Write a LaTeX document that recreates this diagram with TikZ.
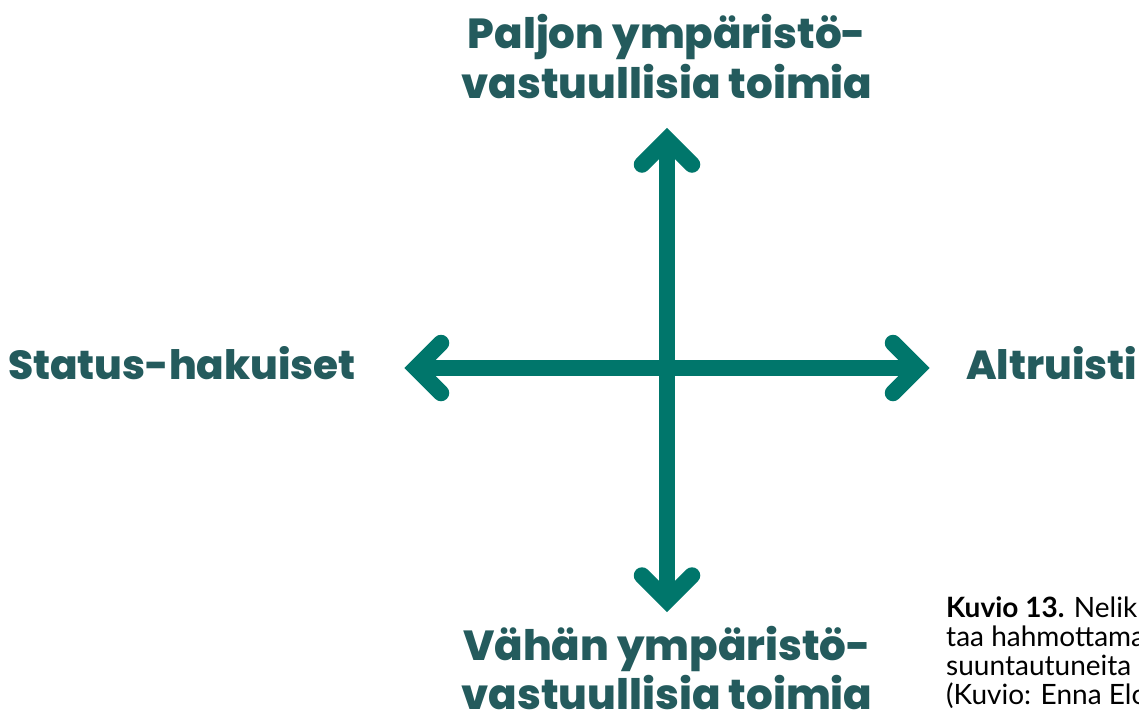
\documentclass[tikz,border=0pt]{standalone}
\usepackage{fontspec}
\setmainfont{Poppins}
\newfontfamily\heavy{Poppins ExtraBold}
\newfontfamily\capfont{Lato}
\definecolor{axisteal}{HTML}{00766B}
\definecolor{labelteal}{HTML}{245B5D}
\begin{document}
\begin{tikzpicture}[x=1pt,y=-1pt,
  axis/.style={draw=axisteal, line width=16.5pt},
  head/.style={draw=axisteal, line width=16.5pt, line cap=round, line join=miter},
  pole/.style={text=labelteal, font=\heavy\fontsize{42}{50}\selectfont, inner sep=0pt, align=center},
  side/.style={pole, font=\heavy\fontsize{40.5}{50}\selectfont, anchor=base west},
  caption/.style={text=black, font=\capfont\fontsize{28}{29}\selectfont, inner sep=0pt, anchor=base west}]
\useasboundingbox (0,0) rectangle (1139,716);
\begin{scope}
\clip (0,0) rectangle (1139,716);

% axis end points (chevron vertices)
\coordinate (c) at (667,368);
\coordinate (L) at (416,368);
\coordinate (R) at (918,368);
\coordinate (T) at (667,139.5);
\coordinate (B) at (667,600.5);

% axes
\draw[axis] (L) -- (R);
\draw[axis] (T) -- (B);

% chevron heads
\draw[head] ([shift={(25,-25)}]L) -- (L) -- ([shift={(25,25)}]L);
\draw[head] ([shift={(-25,-25)}]R) -- (R) -- ([shift={(-25,25)}]R);
\draw[head] ([shift={(-25,25)}]T) -- (T) -- ([shift={(25,25)}]T);
\draw[head] ([shift={(-25,-25)}]B) -- (B) -- ([shift={(25,-25)}]B);

% pole labels
\node[pole, anchor=base] (top1) at (667,48) {Paljon ympäristö-};
\node[pole, anchor=base] (top2) at (667,98) {vastuullisia toimia};
\node[pole, anchor=base] (bot1) at (667,660) {Vähän ympäristö-};
\node[pole, anchor=base, text depth=0pt] (bot2) at (667,709) {vastuullisia toimia};
\node[side] (left) at (8,379) {Status-hakuiset};
\node[side] (right) at (966,379) {Altruisti};

% figure caption, running past the right edge
\node[caption] (cap1) at (946,617) {\textbf{Kuvio 13.} Nelik};
\node[caption] (cap2) at (946,646) {taa hahmottama};
\node[caption] (cap3) at (946,675) {suuntautuneita l};
\node[caption] (cap4) at (946,704) {(Kuvio: Enna Elo};
\end{scope}
\end{tikzpicture}
\end{document}
